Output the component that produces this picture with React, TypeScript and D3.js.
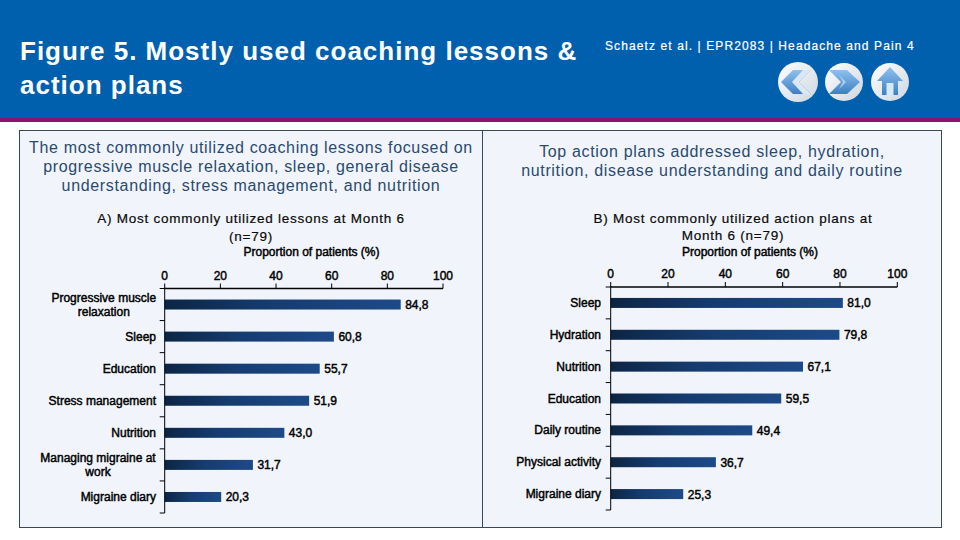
import React from "react";
import * as d3 from "d3";

const lessonCategories = [["Progressive muscle", "relaxation"], ["Sleep"], ["Education"], ["Stress management"], ["Nutrition"], ["Managing migraine at", "work"], ["Migraine diary"]];
const lessonValues = [84.8, 60.8, 55.7, 51.9, 43.0, 31.7, 20.3];
const planCategories = [["Sleep"], ["Hydration"], ["Nutrition"], ["Education"], ["Daily routine"], ["Physical activity"], ["Migraine diary"]];
const planValues = [81.0, 79.8, 67.1, 59.5, 49.4, 36.7, 25.3];
const axisTicks = [0, 20, 40, 60, 80, 100];
const FONT = "'Liberation Sans', Arial, sans-serif";

function fmt(v: number) {
  return v.toFixed(1).replace(".", ",");
}

function BarPanel({ cats, vals, x0, x1, top, bottom, labelX }: { cats: string[][]; vals: number[]; x0: number; x1: number; top: number; bottom: number; labelX: number }) {
  const x = d3.scaleLinear().domain([0, 100]).range([x0, x1]);
  const ids = cats.map((_, i) => i);
  const y = d3.scaleBand<number>().domain(ids).range([top, bottom]);
  const barH = 10;
  const label = { fontFamily: FONT, fontSize: 12, fill: "#000", stroke: "#000", strokeWidth: 0.45 } as const;
  return (
    <g>
      {ids.map((i) => (
        <rect key={i} x={x0} y={y(i)! + y.bandwidth() / 2 - barH / 2} width={x(vals[i]) - x0} height={barH} fill="url(#barGrad)" />
      ))}
      <line x1={x0} x2={x1} y1={top} y2={top} stroke="#000" strokeWidth={1.3} />
      <line x1={x0} x2={x0} y1={top - 1} y2={bottom} stroke="#000" />
      {axisTicks.map((t) => (
        <g key={t}>
          <line x1={x(t)} x2={x(t)} y1={top - 5} y2={top} stroke="#000" />
          <text x={x(t)} y={top - 9} textAnchor="middle" {...label}>{t}</text>
        </g>
      ))}
      {d3.range(cats.length + 1).map((i) => (
        <line key={i} x1={x0 - 5} x2={x0} y1={top + i * y.bandwidth()} y2={top + i * y.bandwidth()} stroke="#000" />
      ))}
      {ids.map((i) => {
        const c = y(i)! + y.bandwidth() / 2;
        const lines = cats[i];
        const half = d3.max(lines, (l) => l.length)! * 2.9;
        return (
          <g key={i}>
            {lines.map((l, k) =>
              lines.length === 2 ? (
                <text key={k} x={labelX - half} y={c - 2.5 + k * 14} textAnchor="middle" {...label}>{l}</text>
              ) : (
                <text key={k} x={labelX} y={c + 4} textAnchor="end" {...label}>{l}</text>
              )
            )}
            <text x={x(vals[i]) + 4.5} y={c + 4.5} {...label}>{fmt(vals[i])}</text>
          </g>
        );
      })}
    </g>
  );
}

function NavButton({ cx, r, kind }: { cx: number; r: number; kind: "back" | "next" | "home" }) {
  const cy = 82;
  return (
    <g>
      <circle cx={cx} cy={cy} r={r} fill="url(#navGrad)" />
      {kind === "back" && (
        <g>
          <path d={`M${cx + 13},${cy - 12} H${cx - 5} L${cx - 17},${cy} L${cx - 5},${cy + 12} H${cx + 13} L${cx + 1},${cy} Z`} fill="url(#iconGrad)" />
          <path d={`M${cx + 13},${cy - 12} L${cx + 1},${cy} L${cx + 13},${cy + 12} L${cx + 5},${cy + 12} L${cx - 6},${cy} L${cx + 5},${cy - 12} Z`} fill="#dbe7f3" />
        </g>
      )}
      {kind === "next" && (
        <g>
          <path d={`M${cx - 15},${cy - 12} H${cx + 3} L${cx + 16},${cy} L${cx + 3},${cy + 12} H${cx - 15} L${cx - 3},${cy} Z`} fill="url(#iconGrad)" />
          <path d={`M${cx - 5},${cy - 7} L${cx + 2},${cy} L${cx - 5},${cy + 7} L${cx - 1},${cy} Z`} fill="#a9d2f5" />
        </g>
      )}
      {kind === "home" && (
        <g>
          <path d={`M${cx},${cy - 15} L${cx + 13},${cy - 1} H${cx + 8} V${cy + 13} H${cx - 8} V${cy - 1} H${cx - 13} Z`} fill="url(#iconGrad)" />
          <rect x={cx - 3.5} y={cy + 1} width={7} height={12} fill="#d7e8f7" />
        </g>
      )}
    </g>
  );
}

const headStyle = { fontFamily: FONT, fontSize: 16, fill: "#2a4a6e", textAnchor: "middle", letterSpacing: 0.66 } as const;
const subStyle = { fontFamily: FONT, fontSize: 13.5, fill: "#0a0a0a", stroke: "#0a0a0a", strokeWidth: 0.2, textAnchor: "middle", letterSpacing: 0.75 } as const;
const axisTitle = { fontFamily: FONT, fontSize: 12, fill: "#000", stroke: "#000", strokeWidth: 0.45, textAnchor: "middle" } as const;

export default function App() {
  return (
    <svg width={960} height={540} style={{ position: "absolute", left: 0, top: 0, background: "#fff" }}>
      <defs>
        <linearGradient id="barGrad" x1="0" x2="1" y1="0" y2="0">
          <stop offset="0" stopColor="#0c2545" />
          <stop offset="0.45" stopColor="#163c70" />
          <stop offset="1" stopColor="#1d4a88" />
        </linearGradient>
        <linearGradient id="navGrad" x1="0" x2="1" y1="0" y2="1">
          <stop offset="0" stopColor="#ffffff" />
          <stop offset="1" stopColor="#ccd6e0" />
        </linearGradient>
        <linearGradient id="iconGrad" x1="0" x2="0" y1="0" y2="1">
          <stop offset="0" stopColor="#8fc1ee" />
          <stop offset="1" stopColor="#3d7fc4" />
        </linearGradient>
      </defs>
      <rect x={0} y={0} width={960} height={118} fill="#0060ae" />
      <rect x={0} y={118} width={960} height={4} fill="#8a1470" />
      <text x={20} y={60} fontFamily={FONT} fontSize={26} fontWeight={700} fill="#fff" letterSpacing={1}>Figure 5. Mostly used coaching lessons &amp;</text>
      <text x={20} y={94} fontFamily={FONT} fontSize={26} fontWeight={700} fill="#fff" letterSpacing={1}>action plans</text>
      <text x={605} y={50} fontFamily={FONT} fontSize={12} fill="#fff" stroke="#fff" strokeWidth={0.2} letterSpacing={1.1}>Schaetz et al. | EPR2083 | Headache and Pain 4</text>
      <NavButton cx={798} r={20} kind="back" />
      <NavButton cx={844} r={19} kind="next" />
      <NavButton cx={890} r={19} kind="home" />

      <rect x={19.5} y={130.5} width={922} height={397} fill="#f1f5fb" stroke="#34495e" />
      <line x1={482.5} x2={482.5} y1={130} y2={527} stroke="#34495e" />

      <text {...headStyle} x={251} y={153}>The most commonly utilized coaching lessons focused on</text>
      <text {...headStyle} x={251} y={172}>progressive muscle relaxation, sleep, general disease</text>
      <text {...headStyle} x={251} y={191}>understanding, stress management, and nutrition</text>
      <text {...headStyle} x={712} y={157}>Top action plans addressed sleep, hydration,</text>
      <text {...headStyle} x={712} y={176}>nutrition, disease understanding and daily routine</text>

      <text {...subStyle} x={251} y={223}>A) Most commonly utilized lessons at Month 6</text>
      <text {...subStyle} x={251} y={241}>(n=79)</text>
      <text {...subStyle} x={733} y={223}>B) Most commonly utilized action plans at</text>
      <text {...subStyle} x={733} y={240}>Month 6 (n=79)</text>
      <text {...axisTitle} x={311.5} y={256}>Proportion of patients (%)</text>
      <text {...axisTitle} x={750} y={256}>Proportion of patients (%)</text>

      <BarPanel cats={lessonCategories} vals={lessonValues} x0={164.7} x1={443} top={288.5} bottom={513} labelX={156} />
      <BarPanel cats={planCategories} vals={planValues} x0={610.7} x1={897.3} top={287} bottom={510} labelX={601} />
    </svg>
  );
}
